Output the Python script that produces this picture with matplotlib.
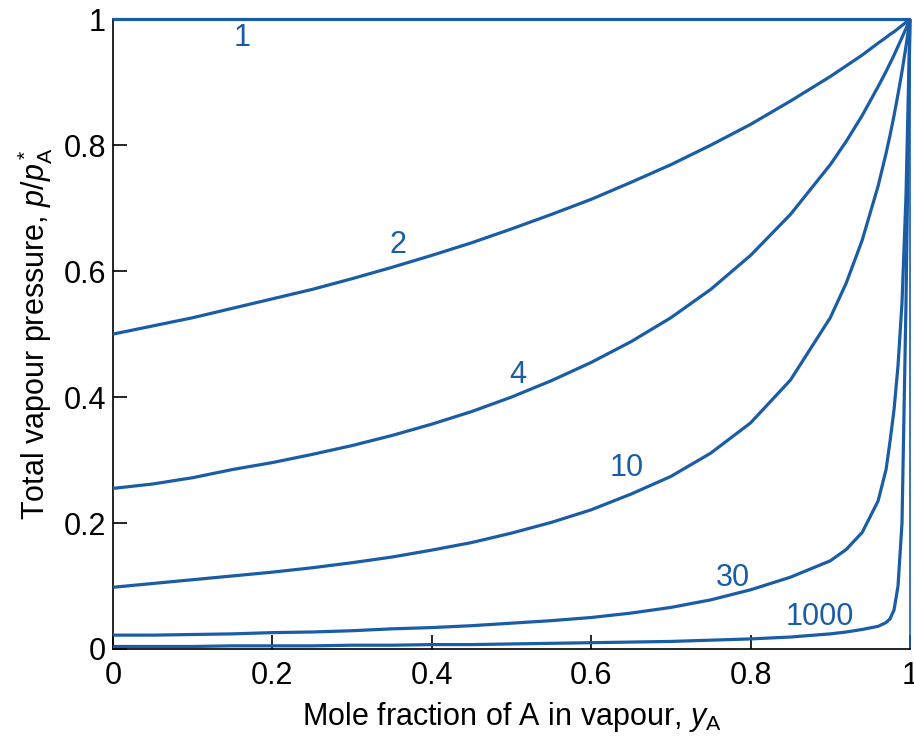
import matplotlib
matplotlib.use("Agg")
import matplotlib.pyplot as plt

# mole fraction of A in vapour
y_A = [0.0, 0.05, 0.1, 0.15, 0.2, 0.25, 0.3, 0.35, 0.4, 0.45, 0.5, 0.55, 0.6, 0.65,
       0.7, 0.75, 0.8, 0.85, 0.9, 0.92, 0.94, 0.96, 0.97, 0.975, 0.98, 0.985, 0.99,
       0.995, 1.0]

# p/pA* for each curve (label = pA*/pB*)
p_1 = [1.0] * len(y_A)
p_2 = [0.500, 0.513, 0.526, 0.541, 0.556, 0.571, 0.588, 0.606, 0.625, 0.645, 0.667,
       0.690, 0.714, 0.741, 0.769, 0.800, 0.833, 0.870, 0.909, 0.926, 0.943, 0.962,
       0.971, 0.976, 0.980, 0.985, 0.990, 0.995, 1.0]
p_4 = [0.255, 0.262, 0.272, 0.285, 0.296, 0.309, 0.323, 0.339, 0.357, 0.377, 0.400,
       0.426, 0.455, 0.488, 0.526, 0.571, 0.625, 0.690, 0.769, 0.806, 0.847, 0.893,
       0.917, 0.930, 0.943, 0.957, 0.971, 0.985, 1.0]
p_10 = [0.098, 0.104, 0.110, 0.116, 0.122, 0.129, 0.137, 0.146, 0.157, 0.169, 0.184,
        0.201, 0.221, 0.246, 0.274, 0.311, 0.359, 0.427, 0.526, 0.581, 0.649, 0.735,
        0.787, 0.816, 0.847, 0.881, 0.917, 0.957, 1.0]
p_30 = [0.022, 0.022, 0.023, 0.024, 0.026, 0.027, 0.029, 0.032, 0.034, 0.037, 0.041,
        0.045, 0.050, 0.057, 0.066, 0.078, 0.094, 0.114, 0.140, 0.158, 0.185, 0.235,
        0.285, 0.330, 0.380, 0.450, 0.550, 0.720, 1.0]
p_1000 = [0.004, 0.004, 0.004, 0.005, 0.005, 0.005, 0.006, 0.006, 0.007, 0.007, 0.008,
          0.009, 0.010, 0.011, 0.012, 0.014, 0.016, 0.019, 0.024, 0.027, 0.031, 0.036,
          0.042, 0.048, 0.062, 0.100, 0.200, 0.550, 1.0]

curves = [("1", p_1), ("2", p_2), ("4", p_4), ("10", p_10), ("30", p_30), ("1000", p_1000)]
# label anchor (x, y) in data coords
label_pos = {"1": (0.162, 0.97), "2": (0.358, 0.641), "4": (0.508, 0.435),
             "10": (0.645, 0.287), "30": (0.778, 0.113), "1000": (0.887, 0.051)}

blue = "#1a5da6"
fs = 22
plt.rcParams["font.family"] = ["Liberation Sans", "DejaVu Sans"]
plt.rcParams["mathtext.fontset"] = "custom"
plt.rcParams["mathtext.it"] = "Liberation Sans:italic"
plt.rcParams["mathtext.rm"] = "Liberation Sans"

fig = plt.figure(figsize=(9.14, 7.39), dpi=100)
ax = fig.add_axes([0.1236, 0.1218, 0.8720, 0.8522])

for name, p in curves:
    ax.plot(y_A, p, color=blue, lw=2.3, clip_on=False, zorder=3,
            solid_capstyle="butt", solid_joinstyle="round")
    lx, ly = label_pos[name]
    ax.text(lx, ly, name, color=blue, fontsize=fs, ha="center", va="center")

ax.set_xlim(0, 1)
ax.set_ylim(0, 1)
ticks = [0, 0.2, 0.4, 0.6, 0.8, 1]
tick_labels = ["0", "0.2", "0.4", "0.6", "0.8", "1"]
ax.set_xticks(ticks)
ax.set_xticklabels(tick_labels)
ax.set_yticks(ticks)
ax.set_yticklabels(tick_labels)
ax.tick_params(direction="in", length=10, width=1.2, labelsize=fs,
               top=False, right=False)
ax.tick_params(axis="x", pad=9)
ax.tick_params(axis="y", pad=5)
for s in ax.spines.values():
    s.set_linewidth(1.2)
ax.spines["top"].set_color(blue)
ax.spines["right"].set_color(blue)

ax.set_xlabel("Mole fraction of A in vapour, $y_\\mathrm{A}$", fontsize=fs, labelpad=6)
ax.set_ylabel("Total vapour pressure, $p/p_\\mathrm{A}^*$", fontsize=fs, labelpad=6)

fig.savefig("out.png", dpi=100)
